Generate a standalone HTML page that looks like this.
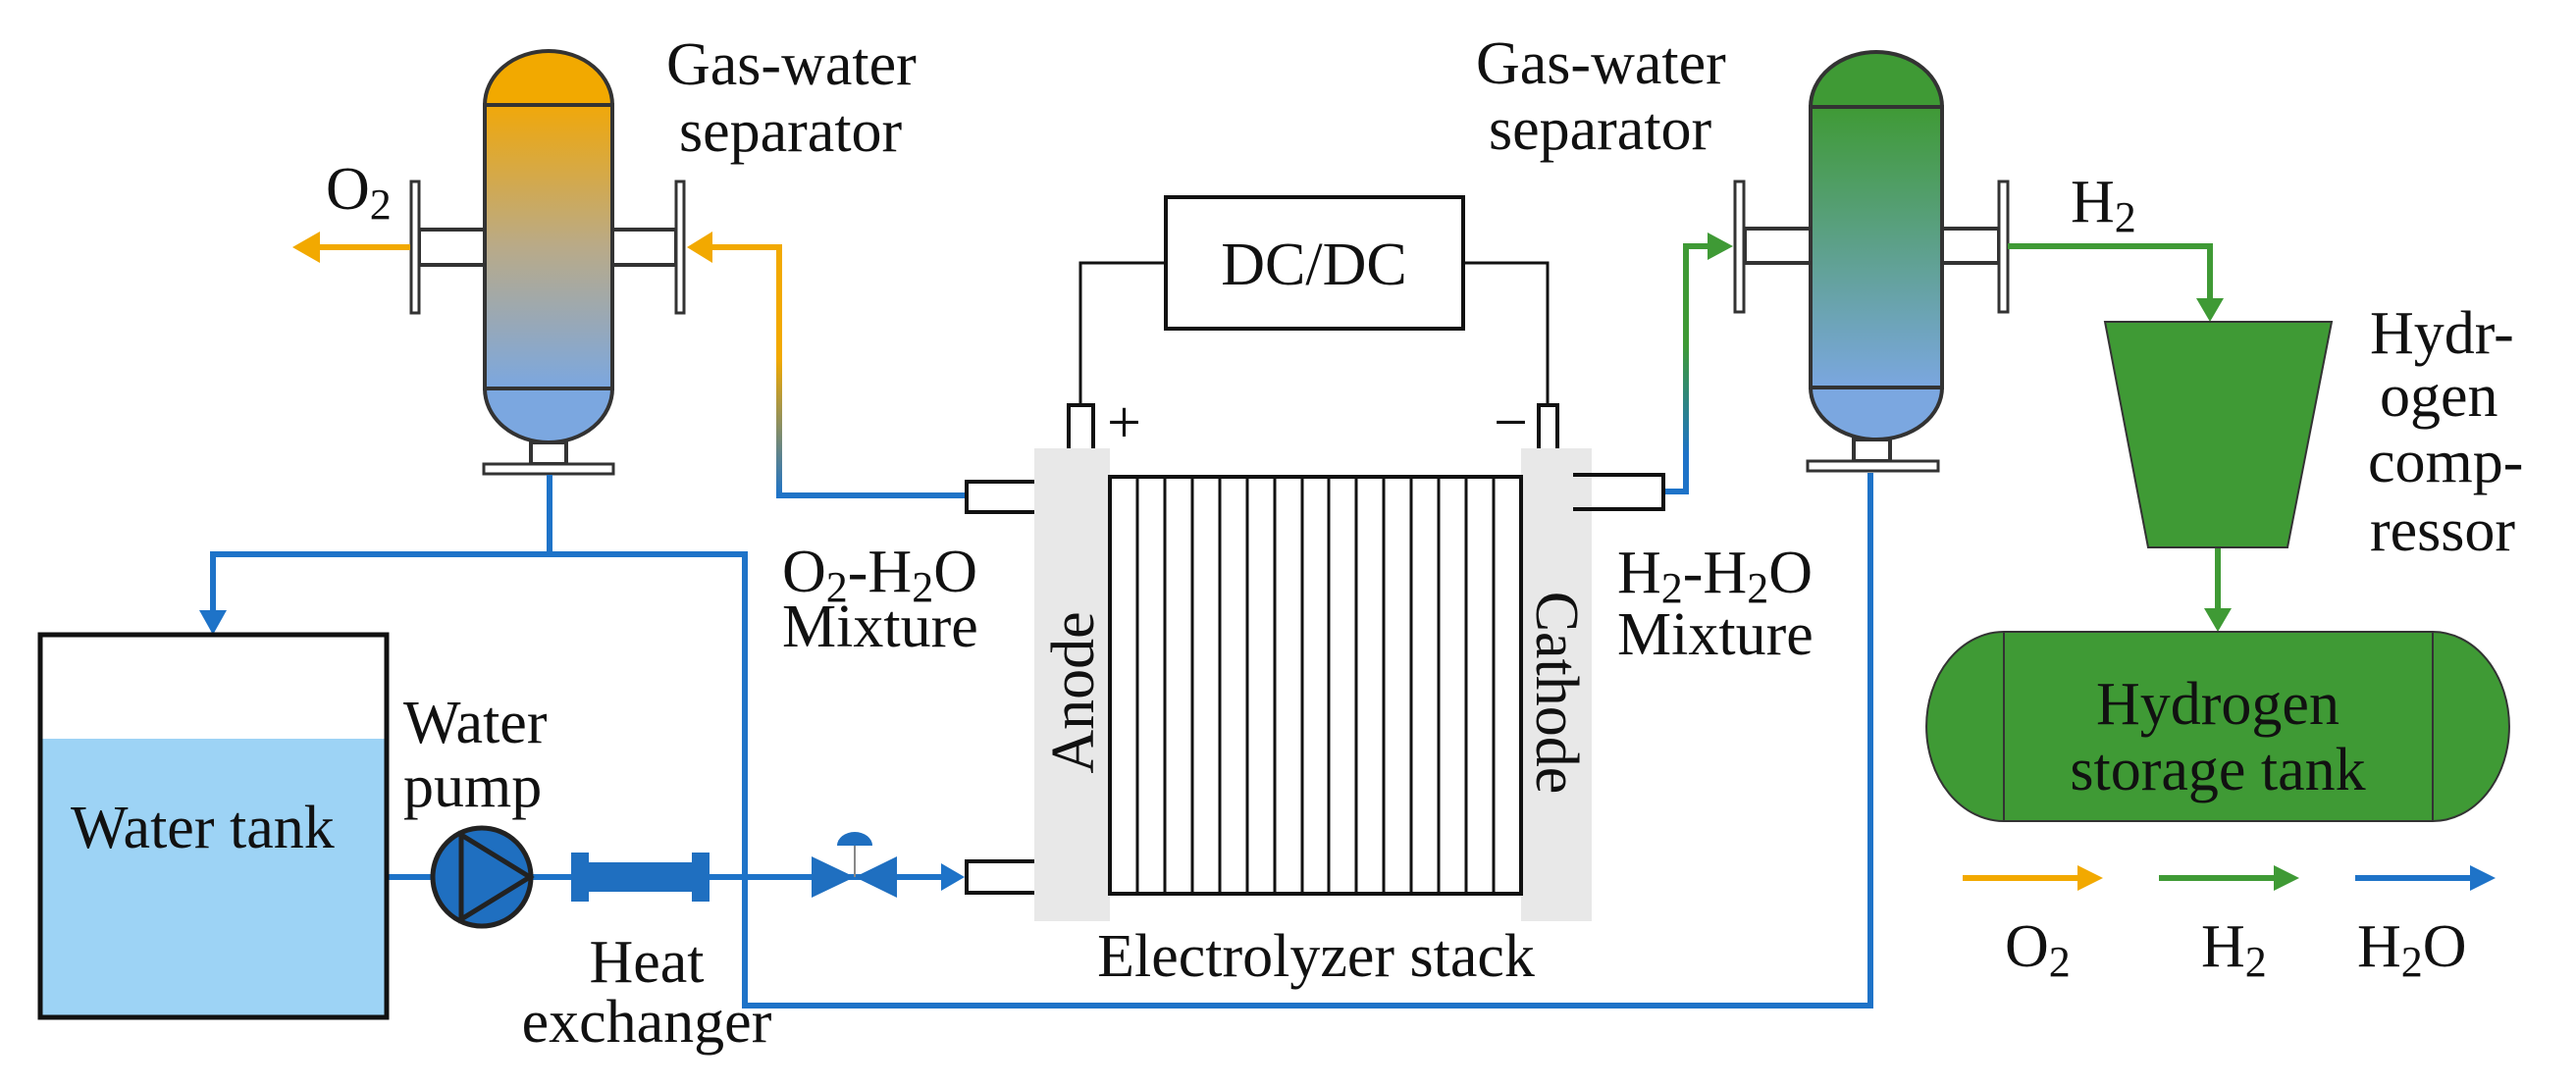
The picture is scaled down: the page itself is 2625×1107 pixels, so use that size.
<!DOCTYPE html>
<html><head><meta charset="utf-8"><style>
html,body{margin:0;padding:0;background:#fff;}
svg{display:block;}
svg text{font-family:"Liberation Serif","Times New Roman","DejaVu Serif",serif;font-size:62px;fill:#111;}
</style></head><body>
<svg width="2625" height="1107" viewBox="0 0 2625 1107" xmlns="http://www.w3.org/2000/svg" font-family="Liberation Serif, serif">
<defs>
<linearGradient id="og" x1="0" y1="0" x2="0" y2="1">
<stop offset="0" stop-color="#F0A80A"/><stop offset="0.5" stop-color="#B9AA88"/><stop offset="1" stop-color="#7BA7E0"/></linearGradient>
<linearGradient id="gg" x1="0" y1="0" x2="0" y2="1">
<stop offset="0" stop-color="#3F9A35"/><stop offset="1" stop-color="#7BA7E0"/></linearGradient>
<linearGradient id="ol" gradientUnits="userSpaceOnUse" x1="0" y1="252" x2="0" y2="505">
<stop offset="0" stop-color="#F2A900"/><stop offset="0.45" stop-color="#F2A900"/><stop offset="1" stop-color="#1E73C8"/></linearGradient>
<linearGradient id="gl" gradientUnits="userSpaceOnUse" x1="0" y1="251" x2="0" y2="501">
<stop offset="0" stop-color="#3F9A35"/><stop offset="0.4" stop-color="#3F9A35"/><stop offset="0.85" stop-color="#1E73C8"/></linearGradient>
</defs>

<!-- Left separator -->
<g stroke="#333" stroke-width="4">
<path d="M494 107 A65 55 0 0 1 624 107 Z" fill="#F2A900"/>
<rect x="494" y="107" width="130" height="289" fill="url(#og)"/>
<path d="M494 396 L624 396 A65 55 0 0 1 494 396 Z" fill="#7BA7E0"/>
<rect x="541" y="451" width="36" height="22" fill="#fff"/>
<rect x="493" y="473" width="132" height="10" fill="#fff" stroke-width="3"/>
<rect x="427" y="234" width="67" height="36" fill="#fff"/>
<rect x="624" y="234" width="65" height="36" fill="#fff"/>
<rect x="419" y="185" width="8" height="134" fill="#fff" stroke-width="3"/>
<rect x="689" y="185" width="8" height="134" fill="#fff" stroke-width="3"/>
</g>
<!-- Right separator -->
<g stroke="#333" stroke-width="4">
<path d="M1845 109 A67 56 0 0 1 1979 109 Z" fill="#3F9A35"/>
<rect x="1845" y="109" width="134" height="286" fill="url(#gg)"/>
<path d="M1845 395 L1979 395 A67 53 0 0 1 1845 395 Z" fill="#7BA7E0"/>
<rect x="1889" y="448" width="37" height="22" fill="#fff"/>
<rect x="1842" y="470" width="133" height="10" fill="#fff" stroke-width="3"/>
<rect x="1778" y="233" width="67" height="35" fill="#fff"/>
<rect x="1979" y="233" width="58" height="35" fill="#fff"/>
<rect x="1768" y="185" width="9" height="133" fill="#fff" stroke-width="3"/>
<rect x="2037" y="185" width="9" height="133" fill="#fff" stroke-width="3"/>
</g>

<!-- O2 out arrow -->
<line x1="418" y1="252" x2="318" y2="252" stroke="#F2A900" stroke-width="6"/>
<polygon points="298,252 326,236 326,268" fill="#F2A900"/>
<polyline points="985,505 794,505 794,252 718,252" fill="none" stroke="url(#ol)" stroke-width="6"/>
<polygon points="700,252 726,236 726,268" fill="#F2A900"/>
<polyline points="1695,501 1718,501 1718,251 1748,251" fill="none" stroke="url(#gl)" stroke-width="6"/>
<polygon points="1766,251 1740,237 1740,265" fill="#3F9A35"/>
<polyline points="2046,251 2252,251 2252,312" fill="none" stroke="#3F9A35" stroke-width="6"/>
<polygon points="2252,328 2238,304 2266,304" fill="#3F9A35"/>
<line x1="2260" y1="558" x2="2260" y2="625" stroke="#3F9A35" stroke-width="6"/>
<polygon points="2260,644 2246,620 2274,620" fill="#3F9A35"/>

<g fill="none" stroke="#1E73C8" stroke-width="6">
<polyline points="560,484 560,565 217,565 217,630"/>
<polyline points="560,565 759,565 759,1025 1906,1025 1906,482"/>
<line x1="394" y1="894" x2="965" y2="894"/>
</g>
<polygon points="217,647 203,622 231,622" fill="#1E73C8"/>
<polygon points="983,894 959,880 959,908" fill="#1E73C8"/>

<rect x="41" y="753" width="353" height="284" fill="#9DD3F5"/>
<rect x="41" y="647" width="353" height="390" fill="none" stroke="#111" stroke-width="5"/>
<text x="72" y="864" font-size="64">Water tank</text>

<circle cx="491" cy="894" r="50" fill="#1F6FC0" stroke="#222" stroke-width="5"/>
<polygon points="470,851 470,937 540,894" fill="none" stroke="#222" stroke-width="5"/>
<rect x="582" y="869" width="18" height="50" fill="#1F6FC0"/>
<rect x="705" y="869" width="18" height="50" fill="#1F6FC0"/>
<rect x="598" y="879" width="110" height="30" fill="#1F6FC0"/>
<polygon points="827,873 871,894 827,915" fill="#1F6FC0"/>
<polygon points="914,873 871,894 914,915" fill="#1F6FC0"/>
<line x1="871" y1="860" x2="871" y2="894" stroke="#888" stroke-width="2"/>
<path d="M853 862 A18 14 0 0 1 889 862 Z" fill="#1F6FC0"/>

<rect x="1054" y="457" width="77" height="482" fill="#E8E8E8"/>
<rect x="1550" y="457" width="72" height="482" fill="#E8E8E8"/>
<rect x="1131" y="486" width="419" height="425" fill="#fff" stroke="#111" stroke-width="4"/>
<g stroke="#111" stroke-width="3">
<line x1="1159" y1="486" x2="1159" y2="911"/><line x1="1187" y1="486" x2="1187" y2="911"/>
<line x1="1215" y1="486" x2="1215" y2="911"/><line x1="1243" y1="486" x2="1243" y2="911"/>
<line x1="1271" y1="486" x2="1271" y2="911"/><line x1="1299" y1="486" x2="1299" y2="911"/>
<line x1="1327" y1="486" x2="1327" y2="911"/><line x1="1354" y1="486" x2="1354" y2="911"/>
<line x1="1382" y1="486" x2="1382" y2="911"/><line x1="1410" y1="486" x2="1410" y2="911"/>
<line x1="1438" y1="486" x2="1438" y2="911"/><line x1="1466" y1="486" x2="1466" y2="911"/>
<line x1="1494" y1="486" x2="1494" y2="911"/><line x1="1522" y1="486" x2="1522" y2="911"/>
</g>
<g fill="none" stroke="#111" stroke-width="4">
<path d="M1054 491 L985 491 L985 522 L1054 522"/>
<path d="M1054 878 L985 878 L985 910 L1054 910"/>
<path d="M1603 484 L1695 484 L1695 519 L1603 519"/>
<path d="M1089 457 L1089 413 L1114 413 L1114 457"/>
<path d="M1568 457 L1568 413 L1587 413 L1587 457"/>
<polyline points="1101,413 1101,268 1188,268" stroke-width="3"/>
<polyline points="1577,413 1577,268 1491,268" stroke-width="3"/>
<rect x="1188" y="201" width="303" height="134" stroke-width="4"/>
</g>
<text x="1339" y="290" text-anchor="middle" font-size="64">DC/DC</text>
<text x="1128" y="451" font-size="54">+</text>
<text x="1522" y="451" font-size="54">−</text>
<text transform="translate(1114,706) rotate(-90)" text-anchor="middle" font-size="62">Anode</text>
<text transform="translate(1566,706) rotate(90)" text-anchor="middle" font-size="62">Cathode</text>

<polygon points="2145,328 2376,328 2331,558 2189,558" fill="#3F9A35" stroke="#333" stroke-width="2"/>
<path d="M2042 644 L2479 644 A78 96.5 0 0 1 2479 837 L2042 837 A79 96.5 0 0 1 2042 644 Z" fill="#3F9A35" stroke="#333" stroke-width="2"/>
<line x1="2042" y1="644" x2="2042" y2="837" stroke="#333" stroke-width="2"/>
<line x1="2479" y1="644" x2="2479" y2="837" stroke="#333" stroke-width="2"/>
<text x="2260" y="738" text-anchor="middle" font-size="62">Hydrogen</text>
<text x="2260" y="805" text-anchor="middle" font-size="62">storage tank</text>

<line x1="2000" y1="895" x2="2122" y2="895" stroke="#F2A900" stroke-width="6"/>
<polygon points="2143,895 2117,882 2117,908" fill="#F2A900"/>
<line x1="2200" y1="895" x2="2322" y2="895" stroke="#3F9A35" stroke-width="6"/>
<polygon points="2343,895 2317,882 2317,908" fill="#3F9A35"/>
<line x1="2400" y1="895" x2="2522" y2="895" stroke="#1E73C8" stroke-width="6"/>
<polygon points="2543,895 2517,882 2517,908" fill="#1E73C8"/>
<text x="2043" y="985">O<tspan font-size="44" dy="10">2</tspan></text>
<text x="2243" y="985">H<tspan font-size="44" dy="10">2</tspan></text>
<text x="2402" y="985">H<tspan font-size="44" dy="10">2</tspan><tspan dy="-10">O</tspan></text>

<text x="679" y="86">Gas-water</text>
<text x="692" y="154">separator</text>
<text x="1504" y="85">Gas-water</text>
<text x="1517" y="152">separator</text>
<text x="332" y="213">O<tspan font-size="44" dy="10">2</tspan></text>
<text x="2110" y="226">H<tspan font-size="44" dy="10">2</tspan></text>
<text x="797" y="603">O<tspan font-size="44" dy="10">2</tspan><tspan dy="-10">-H</tspan><tspan font-size="44" dy="10">2</tspan><tspan dy="-10">O</tspan></text>
<text x="797" y="659">Mixture</text>
<text x="1648" y="604">H<tspan font-size="44" dy="10">2</tspan><tspan dy="-10">-H</tspan><tspan font-size="44" dy="10">2</tspan><tspan dy="-10">O</tspan></text>
<text x="1648" y="667">Mixture</text>
<text x="411" y="757">Water</text>
<text x="411" y="822">pump</text>
<text x="659" y="1001" text-anchor="middle">Heat</text>
<text x="659" y="1062" text-anchor="middle">exchanger</text>
<text x="1341" y="995" text-anchor="middle">Electrolyzer stack</text>
<text x="2415" y="360">Hydr-</text>
<text x="2425" y="424">ogen</text>
<text x="2413" y="491">comp-</text>
<text x="2415" y="561">ressor</text>
</svg>
</body></html>
